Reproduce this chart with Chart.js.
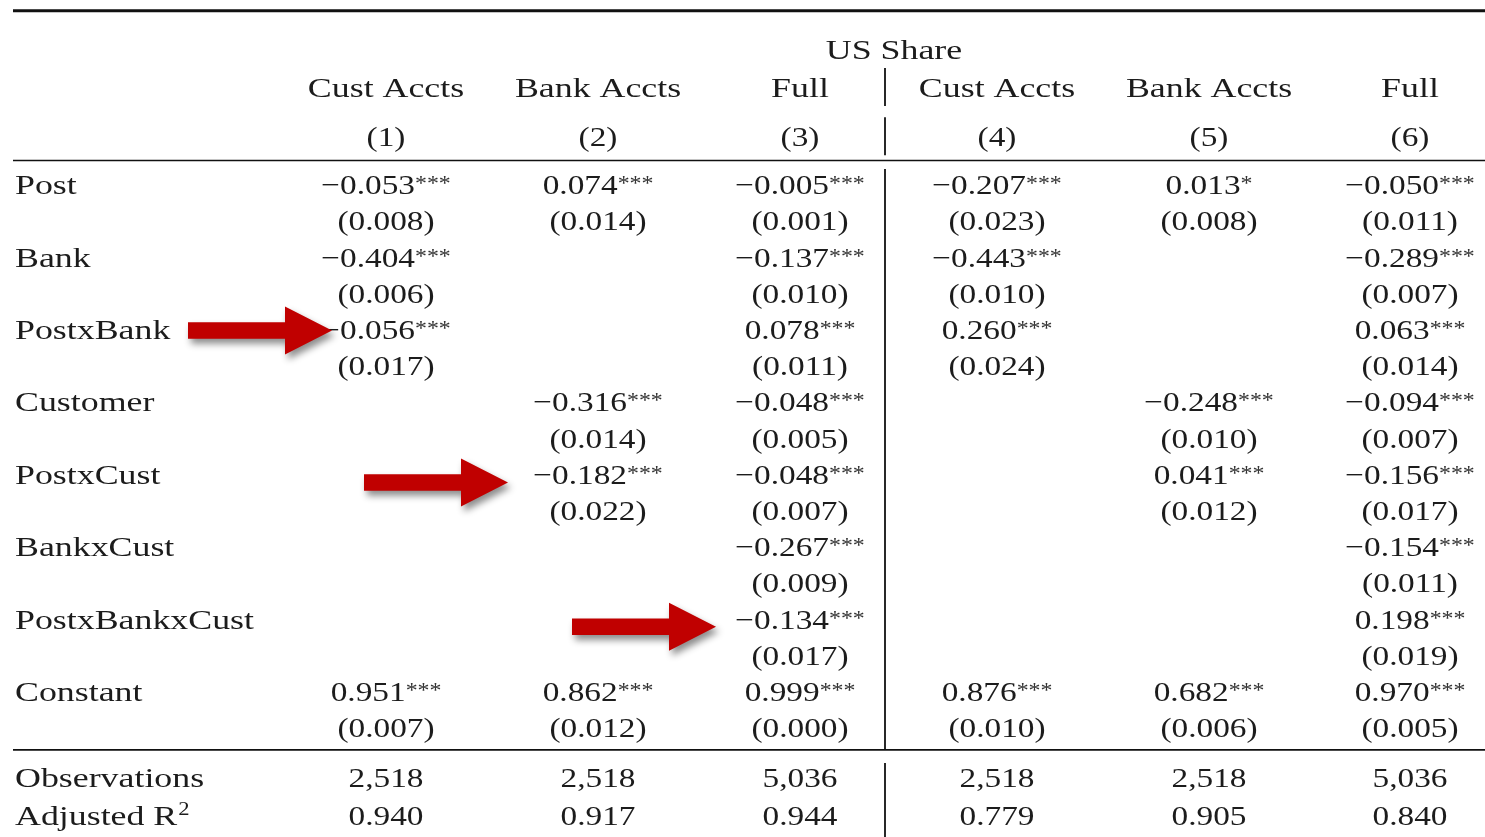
<!DOCTYPE html>
<html>
<head>
<meta charset="utf-8">
<script src="https://cdn.jsdelivr.net/npm/chart.js@4.4.1/dist/chart.umd.min.js"></script>
<style>
  html, body { margin: 0; padding: 0; background: #ffffff; }
  #wrap { width: 1485px; height: 837px; }
</style>
</head>
<body>
<div id="wrap"><canvas id="table" width="1485" height="837"></canvas></div>
<script>
// ---- Table content ----
const groupTitle = 'US Share';
const specNames = ['Cust Accts', 'Bank Accts', 'Full', 'Cust Accts', 'Bank Accts', 'Full'];
const columnNumbers = ['(1)', '(2)', '(3)', '(4)', '(5)', '(6)'];
const variables = ['Post', 'Bank', 'PostxBank', 'Customer', 'PostxCust', 'BankxCust', 'PostxBankxCust', 'Constant'];

// Coefficients, standard errors and significance stars, one set per model column
const coef1  = [-0.053, -0.404, -0.056, null, null, null, null, 0.951];
const se1    = [ 0.008,  0.006,  0.017, null, null, null, null, 0.007];
const stars1 = [3, 3, 3, 0, 0, 0, 0, 3];

const coef2  = [ 0.074, null, null, -0.316, -0.182, null, null, 0.862];
const se2    = [ 0.014, null, null,  0.014,  0.022, null, null, 0.012];
const stars2 = [3, 0, 0, 3, 3, 0, 0, 3];

const coef3  = [-0.005, -0.137, 0.078, -0.048, -0.048, -0.267, -0.134, 0.999];
const se3    = [ 0.001,  0.010, 0.011,  0.005,  0.007,  0.009,  0.017, 0.000];
const stars3 = [3, 3, 3, 3, 3, 3, 3, 3];

const coef4  = [-0.207, -0.443, 0.260, null, null, null, null, 0.876];
const se4    = [ 0.023,  0.010, 0.024, null, null, null, null, 0.010];
const stars4 = [3, 3, 3, 0, 0, 0, 0, 3];

const coef5  = [ 0.013, null, null, -0.248, 0.041, null, null, 0.682];
const se5    = [ 0.008, null, null,  0.010, 0.012, null, null, 0.006];
const stars5 = [1, 0, 0, 3, 3, 0, 0, 3];

const coef6  = [-0.050, -0.289, 0.063, -0.094, -0.156, -0.154, 0.198, 0.970];
const se6    = [ 0.011,  0.007, 0.014,  0.007,  0.017,  0.011, 0.019, 0.005];
const stars6 = [3, 3, 3, 3, 3, 3, 3, 3];

const observations = [2518, 2518, 5036, 2518, 2518, 5036];
const adjR2 = [0.940, 0.917, 0.944, 0.779, 0.905, 0.840];

// Highlight arrows: variable index and model column they point at
const highlights = [
  { variable: 2, column: 0 },
  { variable: 4, column: 1 },
  { variable: 6, column: 2 }
];

// ---- Layout (x in table units across the page, y in text lines) ----
const LAYOUT = {
  labelX: 15,
  colX: [386, 598, 800, 997, 1209, 1410],
  titleX: 894,
  ruleLeft: 13, ruleRight: 1485,
  dividerX: 885,
  titleLine: -3.727, specLine: -2.696, numberLine: -1.343,
  topRule: -5.07, midRule: -0.934, lowRule: 15.35,
  obsLine: 16.38, r2Line: 17.42,
  dividerSegments: [[-3.49, -2.44], [-2.13, -1.08], [-0.70, 15.35], [15.71, 17.8]],
  arrowTip: [332, 508, 716],
  arrowLineShift: [-0.238, -0.039, -0.055],
  yMin: -5.367, yMax: 17.754
};

const STYLE = {
  family: '"Liberation Serif", "Times New Roman", serif',
  size: 28,
  numStretch: 1.19,
  wordStretch: 1.28,
  starSize: 20,
  starRaise: 4,
  ink: '#1c1c1c',
  starInk: '#333333',
  rule: '#111111',
  arrow: '#c00000'
};

const coefs = [coef1, coef2, coef3, coef4, coef5, coef6];
const ses = [se1, se2, se3, se4, se5, se6];
const stars = [stars1, stars2, stars3, stars4, stars5, stars6];

function fmt(v) {
  const s = Math.abs(v).toFixed(3);
  return v < 0 ? '\u2212' + s : s;
}

// One invisible anchor point per filled cell; the plugin writes the text at it
const cellPoints = [];
coefs.forEach((col, c) => {
  col.forEach((v, i) => {
    if (v !== null) {
      cellPoints.push({ x: LAYOUT.colX[c], y: 2 * i, kind: 'coef', c, i });
      cellPoints.push({ x: LAYOUT.colX[c], y: 2 * i + 1, kind: 'se', c, i });
    }
  });
});

function textWidth(ctx, str, size, stretch) {
  ctx.font = size + 'px ' + STYLE.family;
  return ctx.measureText(str).width * stretch;
}

function drawStretched(ctx, str, left, baseline, size, stretch) {
  ctx.save();
  ctx.font = size + 'px ' + STYLE.family;
  ctx.textAlign = 'left';
  ctx.textBaseline = 'alphabetic';
  ctx.translate(left, baseline);
  ctx.scale(stretch, 1);
  ctx.fillText(str, 0, 0);
  ctx.restore();
}

function drawAligned(ctx, str, x, baseline, align, stretch) {
  const w = textWidth(ctx, str, STYLE.size, stretch);
  const left = align === 'center' ? x - w / 2 : (align === 'right' ? x - w : x);
  drawStretched(ctx, str, left, baseline, STYLE.size, stretch);
}

function drawWithSup(ctx, main, sup, x, baseline, mainStretch) {
  const w1 = textWidth(ctx, main, STYLE.size, mainStretch);
  const w2 = sup ? textWidth(ctx, sup, STYLE.starSize, STYLE.numStretch) : 0;
  const left = x - (w1 + w2) / 2;
  drawStretched(ctx, main, left, baseline, STYLE.size, mainStretch);
  if (sup) {
    ctx.save();
    ctx.fillStyle = STYLE.starInk;
    drawStretched(ctx, sup, left + w1, baseline - STYLE.starRaise, STYLE.starSize, STYLE.numStretch);
    ctx.restore();
  }
}

const tablePlugin = {
  id: 'regressionTable',
  afterDatasetsDraw(chart) {
    const ctx = chart.ctx;
    const xs = chart.scales.x, ys = chart.scales.y;
    const X = v => xs.getPixelForValue(v);
    const Y = v => ys.getPixelForValue(v);

    // Horizontal rules
    ctx.save();
    ctx.strokeStyle = STYLE.rule;
    [[LAYOUT.topRule, 3], [LAYOUT.midRule, 1.7], [LAYOUT.lowRule, 1.7]].forEach(([r, lw]) => {
      ctx.lineWidth = lw;
      ctx.beginPath();
      ctx.moveTo(X(LAYOUT.ruleLeft), Y(r));
      ctx.lineTo(X(LAYOUT.ruleRight), Y(r));
      ctx.stroke();
    });
    // Divider between the two model groups
    ctx.lineWidth = 1.8;
    LAYOUT.dividerSegments.forEach(([a, b]) => {
      ctx.beginPath();
      ctx.moveTo(X(LAYOUT.dividerX), Y(a));
      ctx.lineTo(X(LAYOUT.dividerX), Y(b));
      ctx.stroke();
    });
    ctx.restore();

    ctx.save();
    ctx.fillStyle = STYLE.ink;
    // Header
    drawAligned(ctx, groupTitle, X(LAYOUT.titleX), Y(LAYOUT.titleLine), 'center', STYLE.wordStretch);
    specNames.forEach((s, c) => drawAligned(ctx, s, X(LAYOUT.colX[c]), Y(LAYOUT.specLine), 'center', STYLE.wordStretch));
    columnNumbers.forEach((s, c) => drawAligned(ctx, s, X(LAYOUT.colX[c]), Y(LAYOUT.numberLine), 'center', STYLE.numStretch));

    // Variable names
    variables.forEach((v, i) => drawAligned(ctx, v, X(LAYOUT.labelX), Y(2 * i), 'left', STYLE.wordStretch));

    // Cells
    chart.data.datasets[0].data.forEach(p => {
      const px = X(p.x), py = Y(p.y);
      if (p.kind === 'coef') {
        const n = stars[p.c][p.i];
        drawWithSup(ctx, fmt(coefs[p.c][p.i]), '*'.repeat(n), px, py, STYLE.numStretch);
      } else {
        drawWithSup(ctx, '(' + ses[p.c][p.i].toFixed(3) + ')', '', px, py, STYLE.numStretch);
      }
    });

    // Footer statistics
    drawAligned(ctx, 'Observations', X(LAYOUT.labelX), Y(LAYOUT.obsLine), 'left', STYLE.wordStretch);
    const w = textWidth(ctx, 'Adjusted R', STYLE.size, STYLE.wordStretch);
    drawStretched(ctx, 'Adjusted R', X(LAYOUT.labelX), Y(LAYOUT.r2Line), STYLE.size, STYLE.wordStretch);
    drawStretched(ctx, '2', X(LAYOUT.labelX) + w + 1, Y(LAYOUT.r2Line) - 10, 19, STYLE.numStretch);
    observations.forEach((n, c) => drawAligned(ctx, n.toLocaleString('en-US'), X(LAYOUT.colX[c]), Y(LAYOUT.obsLine), 'center', STYLE.numStretch));
    adjR2.forEach((r, c) => drawAligned(ctx, r.toFixed(3), X(LAYOUT.colX[c]), Y(LAYOUT.r2Line), 'center', STYLE.numStretch));
    ctx.restore();

    // Arrows pointing at highlighted coefficients
    highlights.forEach((h, k) => {
      const tip = X(LAYOUT.arrowTip[k]);
      const cy = Y(2 * h.variable + LAYOUT.arrowLineShift[k]);
      const len = 144, headLen = 47, shaftHalf = 8.3, headHalf = 24;
      const tail = tip - len, base = tip - headLen;
      ctx.save();
      ctx.shadowColor = 'rgba(0,0,0,0.45)';
      ctx.shadowBlur = 7;
      ctx.shadowOffsetX = 3;
      ctx.shadowOffsetY = 5;
      ctx.fillStyle = STYLE.arrow;
      ctx.beginPath();
      ctx.moveTo(tail, cy - shaftHalf);
      ctx.lineTo(base, cy - shaftHalf);
      ctx.lineTo(base, cy - headHalf);
      ctx.lineTo(tip, cy);
      ctx.lineTo(base, cy + headHalf);
      ctx.lineTo(base, cy + shaftHalf);
      ctx.lineTo(tail, cy + shaftHalf);
      ctx.closePath();
      ctx.fill();
      ctx.restore();
    });
  }
};

new Chart(document.getElementById('table'), {
  type: 'scatter',
  data: {
    datasets: [{
      label: 'cells',
      data: cellPoints,
      pointRadius: 0,
      pointHoverRadius: 0,
      showLine: false
    }]
  },
  options: {
    responsive: false,
    animation: false,
    devicePixelRatio: 1,
    layout: { padding: 0 },
    plugins: { legend: { display: false }, tooltip: { enabled: false } },
    events: [],
    scales: {
      x: { type: 'linear', min: 0, max: 1485, display: false },
      y: { type: 'linear', min: LAYOUT.yMin, max: LAYOUT.yMax, reverse: true, display: false }
    }
  },
  plugins: [tablePlugin]
});
</script>
</body>
</html>
